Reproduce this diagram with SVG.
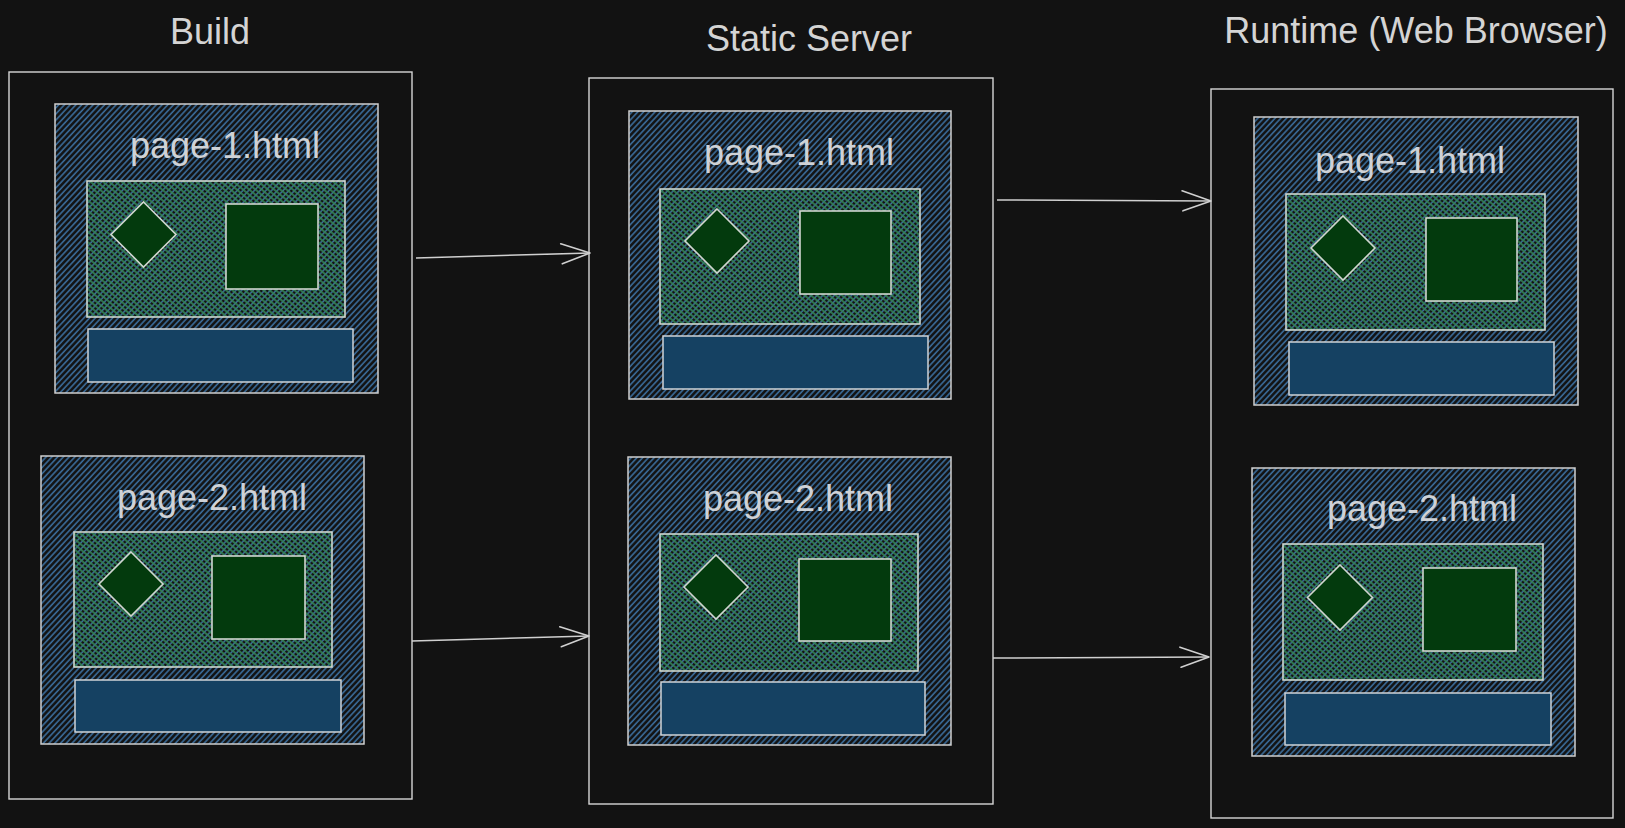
<svg xmlns="http://www.w3.org/2000/svg" width="1625" height="828" viewBox="0 0 1625 828">
<defs>
<pattern id="hb" patternUnits="userSpaceOnUse" width="12" height="4.2" patternTransform="rotate(-47)">
<line x1="0" y1="1" x2="12" y2="1" stroke="#3b6d9c" stroke-width="1.6"/>
</pattern>
<pattern id="hg" patternUnits="userSpaceOnUse" width="12" height="4" patternTransform="rotate(40)">
<line x1="0" y1="1" x2="12" y2="1" stroke="#338453" stroke-width="1.7"/>
</pattern>
<marker id="ah" markerUnits="userSpaceOnUse" markerWidth="40" markerHeight="30" refX="0" refY="0" viewBox="-32 -15 40 30" orient="auto" overflow="visible">
<path d="M-29,-10 L0,0 L-28,10" fill="none" stroke="#d0d0d0" stroke-width="1.6" stroke-linecap="round" stroke-linejoin="round"/>
</marker>
</defs>
<style>
.bg{fill:#121212}
.outer{fill:none;stroke:#d6d6d6;stroke-width:1.4}
.page{fill:url(#hb);stroke:#cfcfcf;stroke-width:1.5}
.green{fill:url(#hg);stroke:#cfd6cf;stroke-width:1.6}
.shape{fill:#033a0d;stroke:#d0d6d0;stroke-width:1.6}
.bar{fill:#154162;stroke:#cfd4d8;stroke-width:1.5}
.title{font-family:"Liberation Sans",Arial,sans-serif;font-size:36px;fill:#d4d4d4;text-anchor:middle}
.lbl{font-family:"Liberation Sans",Arial,sans-serif;font-size:36px;fill:#cfd2d6;text-anchor:middle}
.conn{fill:none;stroke:#d0d0d0;stroke-width:1.5;marker-end:url(#ah)}
</style>
<rect class="bg" x="0" y="0" width="1625" height="828"/>

<g id="build">
<text class="title" x="210" y="44">Build</text>
<rect class="outer" x="9" y="72" width="403" height="727"/>
</g>
<g id="build-page1">
<rect class="page" x="55" y="104" width="323" height="289"/>
<text class="lbl" x="225" y="158">page-1.html</text>
<rect class="green" x="87" y="181" width="258" height="136"/>
<polygon class="shape" points="143.5,202 176,234.5 143.5,267 111,234.5"/>
<rect class="shape" x="226" y="204" width="92" height="85"/>
<rect class="bar" x="88" y="329" width="265" height="53"/>
</g>
<g id="build-page2">
<rect class="page" x="41" y="456" width="323" height="288"/>
<text class="lbl" x="212" y="510">page-2.html</text>
<rect class="green" x="74" y="532" width="258" height="135"/>
<polygon class="shape" points="131,552 163,584 131,616 99,584"/>
<rect class="shape" x="212" y="556" width="93" height="83"/>
<rect class="bar" x="75" y="680" width="266" height="52"/>
</g>

<g id="static">
<text class="title" x="809" y="51">Static Server</text>
<rect class="outer" x="589" y="78" width="404" height="726"/>
</g>
<g id="static-page1">
<rect class="page" x="629" y="111" width="322" height="288"/>
<text class="lbl" x="799" y="165">page-1.html</text>
<rect class="green" x="660" y="189" width="260" height="135"/>
<polygon class="shape" points="717,209 749,241 717,273 685,241"/>
<rect class="shape" x="800" y="211" width="91" height="83"/>
<rect class="bar" x="663" y="336" width="265" height="53"/>
</g>
<g id="static-page2">
<rect class="page" x="628" y="457" width="323" height="288"/>
<text class="lbl" x="798" y="511">page-2.html</text>
<rect class="green" x="660" y="534" width="258" height="137"/>
<polygon class="shape" points="716,555 748,587 716,619 684,587"/>
<rect class="shape" x="799" y="559" width="92" height="82"/>
<rect class="bar" x="661" y="682" width="264" height="53"/>
</g>

<g id="runtime">
<text class="title" x="1416" y="43">Runtime (Web Browser)</text>
<rect class="outer" x="1211" y="89" width="402" height="729"/>
</g>
<g id="runtime-page1">
<rect class="page" x="1254" y="117" width="324" height="288"/>
<text class="lbl" x="1410" y="173">page-1.html</text>
<rect class="green" x="1286" y="194" width="259" height="136"/>
<polygon class="shape" points="1343,216 1375,248 1343,280 1311,248"/>
<rect class="shape" x="1426" y="218" width="91" height="83"/>
<rect class="bar" x="1289" y="342" width="265" height="53"/>
</g>
<g id="runtime-page2">
<rect class="page" x="1252" y="468" width="323" height="288"/>
<text class="lbl" x="1422" y="521">page-2.html</text>
<rect class="green" x="1283" y="544" width="260" height="136"/>
<polygon class="shape" points="1340,565 1372.5,597.5 1340,630 1307.5,597.5"/>
<rect class="shape" x="1423" y="568" width="93" height="83"/>
<rect class="bar" x="1285" y="693" width="266" height="52"/>
</g>

<g id="connectors">
<path class="conn" d="M416,258 L590,253"/>
<path class="conn" d="M412,641 L589,636"/>
<path class="conn" d="M997,200 L1211,201"/>
<path class="conn" d="M993,658 L1209,657"/>
</g>
</svg>
